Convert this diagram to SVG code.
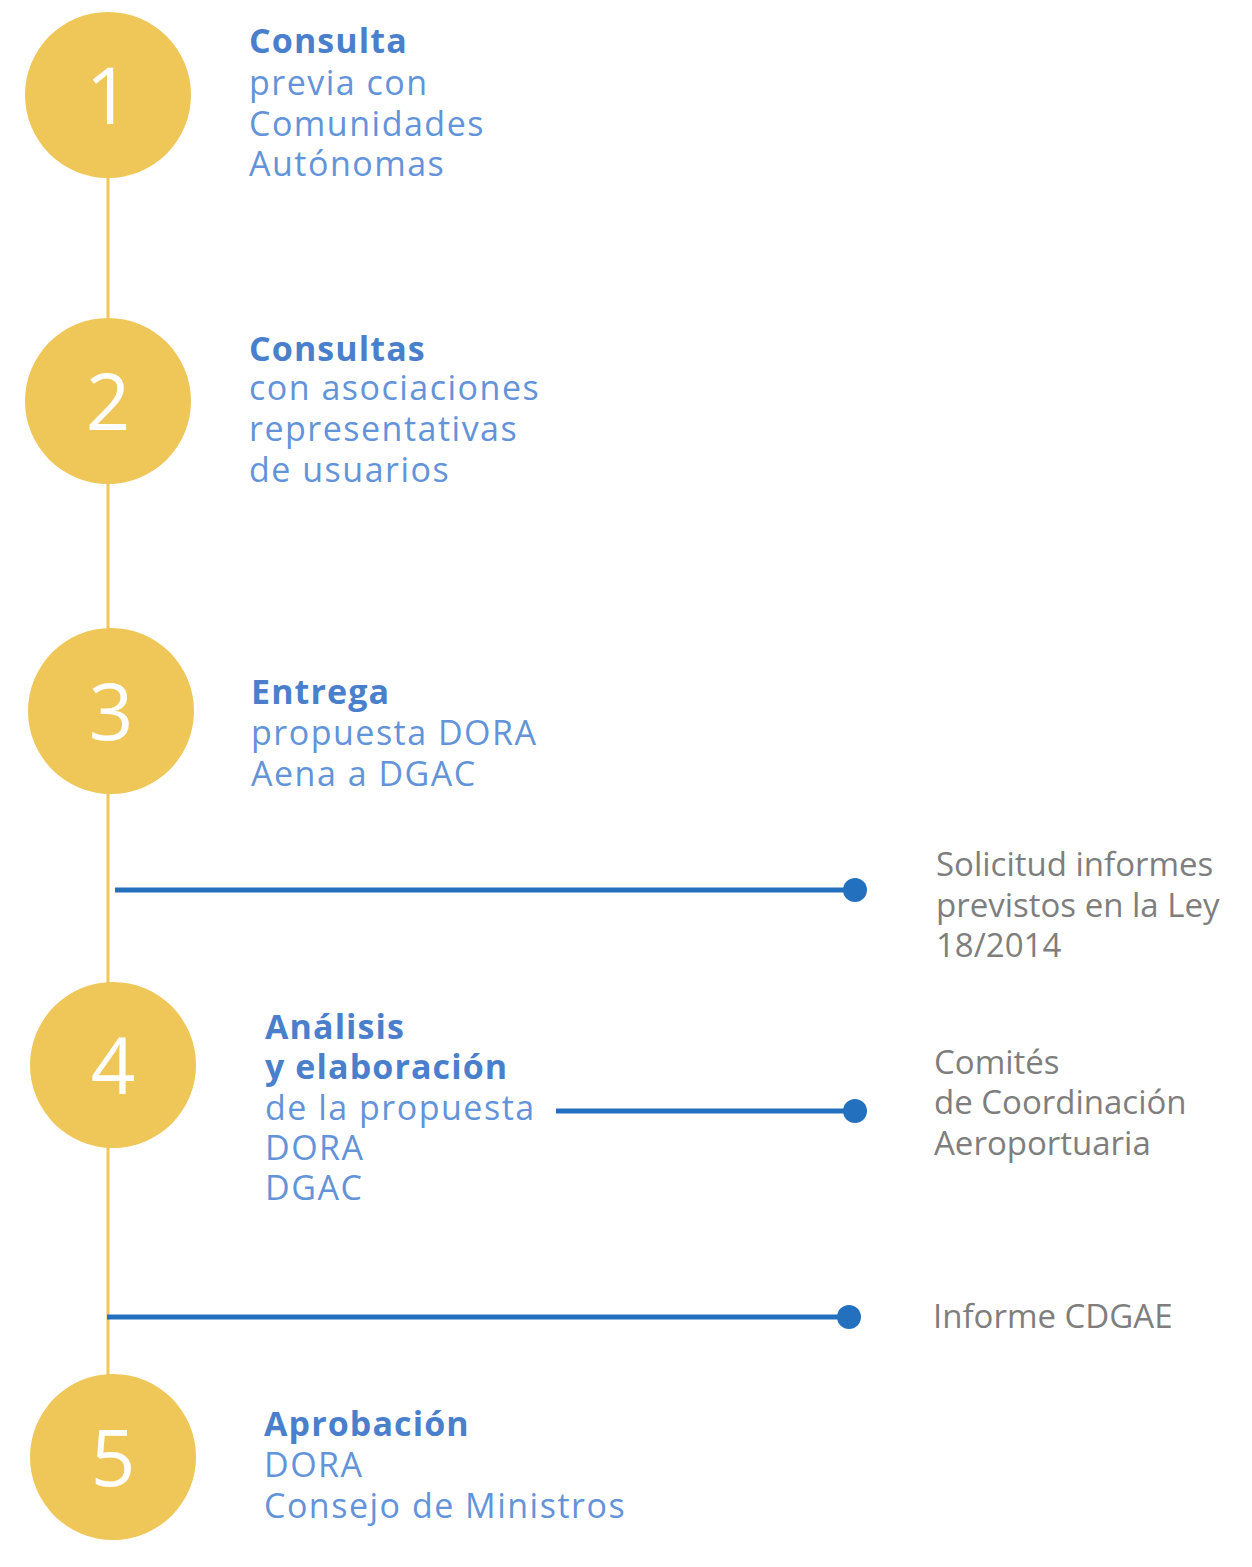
<svg xmlns="http://www.w3.org/2000/svg" width="1252" height="1567" viewBox="0 0 1252 1567">
<style>
.circ{fill:#EFC658}
.num{fill:#ffffff;font-family:"Open Sans","Noto Sans",sans-serif;font-size:78px;text-anchor:middle}
.t{fill:#6393D8;font-family:"Open Sans","Noto Sans",sans-serif;font-size:34px;letter-spacing:1.5px}
.b{fill:#4A7FCC;font-weight:bold;letter-spacing:1.1px}
.g{fill:#7E7E7E;font-family:"Open Sans","Noto Sans",sans-serif;font-size:33px}
.conn{stroke:#2371BE;stroke-width:5;fill:none}
.dot{fill:#2371BE}
.spine{stroke:#F1C65A;stroke-width:3}
</style>
<rect width="1252" height="1567" fill="#ffffff"/>
<g id="connectors">
<line class="spine" x1="108" y1="170" x2="108" y2="1380"/>
<line class="conn" x1="115" y1="890" x2="855" y2="890"/>
<circle class="dot" cx="855" cy="890" r="12"/>
<line class="conn" x1="556" y1="1111" x2="855" y2="1111"/>
<circle class="dot" cx="855" cy="1111" r="12"/>
<line class="conn" x1="107" y1="1317" x2="849" y2="1317"/>
<circle class="dot" cx="849" cy="1317" r="12"/>
</g>
<g id="step1">
<circle class="circ" cx="108" cy="95" r="83"/>
<text class="num" x="108" y="124">1</text>
<text class="t" x="249"><tspan class="b" x="249" y="53">Consulta</tspan><tspan x="249" y="95">previa con</tspan><tspan x="249" y="136">Comunidades</tspan><tspan x="249" y="176">Autónomas</tspan></text>
</g>
<g id="step2">
<circle class="circ" cx="108" cy="401" r="83"/>
<text class="num" x="108" y="430">2</text>
<text class="t" x="249"><tspan class="b" x="249" y="361">Consultas</tspan><tspan x="249" y="400">con asociaciones</tspan><tspan x="249" y="441">representativas</tspan><tspan x="249" y="482">de usuarios</tspan></text>
</g>
<g id="step3">
<circle class="circ" cx="111" cy="711" r="83"/>
<text class="num" x="111" y="740">3</text>
<text class="t" x="251"><tspan class="b" x="251" y="704">Entrega</tspan><tspan x="251" y="745">propuesta DORA</tspan><tspan x="251" y="786">Aena a DGAC</tspan></text>
</g>
<g id="step4">
<circle class="circ" cx="113" cy="1065" r="83"/>
<text class="num" x="113" y="1094">4</text>
<text class="t" x="265"><tspan class="b" x="265" y="1039">Análisis</tspan><tspan class="b" x="265" y="1079">y elaboración</tspan><tspan x="265" y="1120">de la propuesta</tspan><tspan x="265" y="1160">DORA</tspan><tspan x="265" y="1200">DGAC</tspan></text>
</g>
<g id="step5">
<circle class="circ" cx="113" cy="1457" r="83"/>
<text class="num" x="113" y="1486">5</text>
<text class="t" x="264"><tspan class="b" x="264" y="1436">Aprobación</tspan><tspan x="264" y="1477">DORA</tspan><tspan x="264" y="1518">Consejo de Ministros</tspan></text>
</g>
<g id="note1">
<text class="g" x="936"><tspan x="936" y="876">Solicitud informes</tspan><tspan x="936" y="917">previstos en la Ley</tspan><tspan x="936" y="957">18/2014</tspan></text>
</g>
<g id="note2">
<text class="g" x="934"><tspan x="934" y="1074">Comités</tspan><tspan x="934" y="1114">de Coordinación</tspan><tspan x="934" y="1155">Aeroportuaria</tspan></text>
</g>
<g id="note3">
<text class="g" x="933" y="1328">Informe CDGAE</text>
</g>
</svg>
